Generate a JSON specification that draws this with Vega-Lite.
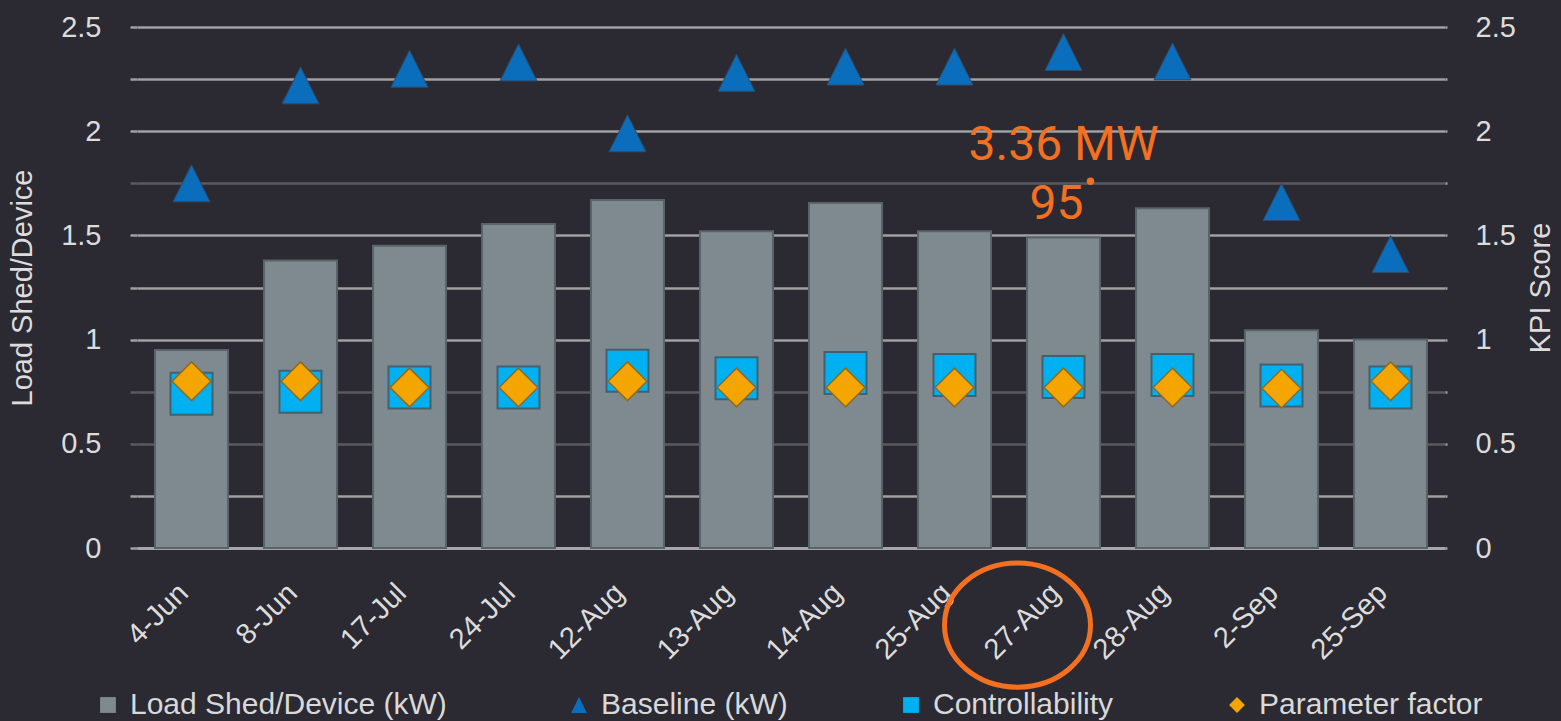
{
  "$schema": "https://vega.github.io/schema/vega-lite/v6.json",
  "width": 1308,
  "height": 521,
  "autosize": {"type": "none"},
  "padding": {"left": 137, "top": 27, "right": 116, "bottom": 173},
  "background": "#2b2a33",
  "config": {
    "view": {"stroke": null},
    "font": "Liberation Sans"
  },
  "datasets": {
    "main": [
      {"date": "4-Jun", "series": "Load Shed/Device  (kW)", "value": 0.95},
      {"date": "8-Jun", "series": "Load Shed/Device  (kW)", "value": 1.38},
      {"date": "17-Jul", "series": "Load Shed/Device  (kW)", "value": 1.45},
      {"date": "24-Jul", "series": "Load Shed/Device  (kW)", "value": 1.555},
      {"date": "12-Aug", "series": "Load Shed/Device  (kW)", "value": 1.67},
      {"date": "13-Aug", "series": "Load Shed/Device  (kW)", "value": 1.52},
      {"date": "14-Aug", "series": "Load Shed/Device  (kW)", "value": 1.655},
      {"date": "25-Aug", "series": "Load Shed/Device  (kW)", "value": 1.52},
      {"date": "27-Aug", "series": "Load Shed/Device  (kW)", "value": 1.49},
      {"date": "28-Aug", "series": "Load Shed/Device  (kW)", "value": 1.63},
      {"date": "2-Sep", "series": "Load Shed/Device  (kW)", "value": 1.045},
      {"date": "25-Sep", "series": "Load Shed/Device  (kW)", "value": 1.0},
      {"date": "4-Jun", "series": "Baseline (kW)", "value": 1.75},
      {"date": "8-Jun", "series": "Baseline (kW)", "value": 2.22},
      {"date": "17-Jul", "series": "Baseline (kW)", "value": 2.3},
      {"date": "24-Jul", "series": "Baseline (kW)", "value": 2.33},
      {"date": "12-Aug", "series": "Baseline (kW)", "value": 1.99},
      {"date": "13-Aug", "series": "Baseline (kW)", "value": 2.28},
      {"date": "14-Aug", "series": "Baseline (kW)", "value": 2.31},
      {"date": "25-Aug", "series": "Baseline (kW)", "value": 2.31},
      {"date": "27-Aug", "series": "Baseline (kW)", "value": 2.38},
      {"date": "28-Aug", "series": "Baseline (kW)", "value": 2.335},
      {"date": "2-Sep", "series": "Baseline (kW)", "value": 1.66},
      {"date": "25-Sep", "series": "Baseline (kW)", "value": 1.41},
      {"date": "4-Jun", "series": "Controllability", "value": 0.74},
      {"date": "8-Jun", "series": "Controllability", "value": 0.75},
      {"date": "17-Jul", "series": "Controllability", "value": 0.77},
      {"date": "24-Jul", "series": "Controllability", "value": 0.77},
      {"date": "12-Aug", "series": "Controllability", "value": 0.85},
      {"date": "13-Aug", "series": "Controllability", "value": 0.815},
      {"date": "14-Aug", "series": "Controllability", "value": 0.84},
      {"date": "25-Aug", "series": "Controllability", "value": 0.83},
      {"date": "27-Aug", "series": "Controllability", "value": 0.82},
      {"date": "28-Aug", "series": "Controllability", "value": 0.83},
      {"date": "2-Sep", "series": "Controllability", "value": 0.78},
      {"date": "25-Sep", "series": "Controllability", "value": 0.77},
      {"date": "4-Jun", "series": "Parameter factor", "value": 0.8},
      {"date": "8-Jun", "series": "Parameter factor", "value": 0.8},
      {"date": "17-Jul", "series": "Parameter factor", "value": 0.77},
      {"date": "24-Jul", "series": "Parameter factor", "value": 0.77},
      {"date": "12-Aug", "series": "Parameter factor", "value": 0.8},
      {"date": "13-Aug", "series": "Parameter factor", "value": 0.77},
      {"date": "14-Aug", "series": "Parameter factor", "value": 0.77},
      {"date": "25-Aug", "series": "Parameter factor", "value": 0.77},
      {"date": "27-Aug", "series": "Parameter factor", "value": 0.77},
      {"date": "28-Aug", "series": "Parameter factor", "value": 0.77},
      {"date": "2-Sep", "series": "Parameter factor", "value": 0.765},
      {"date": "25-Sep", "series": "Parameter factor", "value": 0.8}
    ]
  },
  "encoding": {
    "x": {
      "field": "date",
      "type": "nominal",
      "sort": null,
      "scale": {
        "domain": ["4-Jun", "8-Jun", "17-Jul", "24-Jul", "12-Aug", "13-Aug", "14-Aug", "25-Aug", "27-Aug", "28-Aug", "2-Sep", "25-Sep"],
        "paddingInner": 0.33,
        "paddingOuter": 0.165
      },
      "axis": {
        "title": null,
        "labelAngle": -45,
        "labelAlign": "right",
        "labelBaseline": "middle",
        "labelFontSize": 29,
        "labelColor": "#dcdcdc",
        "labelPadding": 40,
        "labelOffset": -8,
        "ticks": false,
        "domainColor": "#a6a6a6",
        "domainWidth": 3
      }
    }
  },
  "layer": [
    {
      "layer": [
        {
          "data": {"name": "main"},
          "transform": [{"filter": "datum.series === 'Load Shed/Device  (kW)'"}],
          "mark": {"type": "bar", "stroke": "#59636a", "strokeWidth": 2},
          "encoding": {
            "y": {
              "field": "value",
              "type": "quantitative",
              "scale": {"domain": [0, 2.5], "nice": false},
              "axis": {
                "title": "Load Shed/Device",
                "titleColor": "#dcdcdc",
                "titleFontSize": 29,
                "titleFontWeight": "normal",
                "titlePadding": 23,
                "values": [0, 0.25, 0.5, 0.75, 1, 1.25, 1.5, 1.75, 2, 2.25, 2.5],
                "labelExpr": "(datum.value * 4) % 2 == 0 ? format(datum.value, '~g') : ''",
                "labelFontSize": 29,
                "labelColor": "#dcdcdc",
                "labelPadding": 29,
                "tickSize": 7,
                "tickColor": {"condition": {"test": "datum.value == 1.75 || datum.value == 0.75 || datum.value == 0.5", "value": "#5a5a61"}, "value": "#a0a0a0"},
                "tickWidth": 2.5,
                "domain": false,
                "grid": true,
                "gridColor": {"condition": {"test": "datum.value == 1.75 || datum.value == 0.75 || datum.value == 0.5", "value": "#5a5a61"}, "value": "#a0a0a0"},
                "gridWidth": 2.5
              }
            },
            "color": {
              "field": "series",
              "type": "nominal",
              "scale": {
                "domain": ["Load Shed/Device  (kW)", "Baseline (kW)", "Controllability", "Parameter factor"],
                "range": ["#7f8a90", "#0a6ebd", "#00b0f0", "#f5a500"]
              },
              "legend": {
                "title": null,
                "orient": "none",
                "legendX": -44,
                "legendY": 663,
                "direction": "horizontal",
                "columns": 4,
                "columnPadding": 108,
                "labelFontSize": 30,
                "labelLimit": 0,
                "labelColor": "#d9d9d9",
                "symbolSize": 250,
                "labelOffset": 7,
                "symbolStrokeWidth": 0
              }
            }
          }
        },
        {
          "data": {"name": "main"},
          "transform": [{"filter": "datum.series === 'Baseline (kW)'"}],
          "mark": {"type": "point", "filled": true, "opacity": 1, "size": 1369, "stroke": "#2e4a66", "strokeWidth": 1},
          "encoding": {
            "y": {"field": "value", "type": "quantitative", "scale": {"domain": [0, 2.5], "nice": false}},
            "color": {"field": "series", "type": "nominal"},
            "shape": {
              "field": "series",
              "type": "nominal",
              "scale": {
                "domain": ["Load Shed/Device  (kW)", "Baseline (kW)", "Controllability", "Parameter factor"],
                "range": ["square", "M0,-1L1,1L-1,1Z", "square", "diamond"]
              },
              "legend": {
                "title": null,
                "orient": "none",
                "legendX": -44,
                "legendY": 663,
                "direction": "horizontal",
                "columns": 4,
                "columnPadding": 108,
                "labelFontSize": 30,
                "labelLimit": 0,
                "labelColor": "#d9d9d9",
                "symbolSize": 250,
                "labelOffset": 7,
                "symbolStrokeWidth": 0
              }
            }
          }
        },
        {
          "data": {"values": [{"date": "27-Aug", "value": 1.93, "label": "3.36 MW"}]},
          "mark": {"type": "text", "font": "Roboto", "fontSize": 48, "color": "#f37021", "align": "center", "baseline": "middle"},
          "encoding": {
            "y": {"field": "value", "type": "quantitative", "scale": {"domain": [0, 2.5], "nice": false}},
            "text": {"field": "label"}
          }
        },
        {
          "data": {"values": [{"date": "27-Aug", "value": 1.646, "label": "95"}]},
          "mark": {"type": "text", "font": "Roboto", "fontSize": 48, "color": "#f37021", "align": "center", "baseline": "middle", "dx": -7},
          "encoding": {
            "y": {"field": "value", "type": "quantitative", "scale": {"domain": [0, 2.5], "nice": false}},
            "text": {"field": "label"}
          }
        },
        {
          "data": {"values": [{"date": "27-Aug", "value": 1.76}]},
          "mark": {"type": "point", "filled": true, "opacity": 1, "shape": "circle", "size": 55, "color": "#f37021", "xOffset": 27},
          "encoding": {
            "y": {"field": "value", "type": "quantitative", "scale": {"domain": [0, 2.5], "nice": false}}
          }
        },
        {
          "data": {"values": [{"date": "27-Aug", "value": -0.37}]},
          "mark": {"type": "point", "filled": false, "opacity": 1, "shape": "M-1,0A1,0.85,0,1,1,1,0A1,0.85,0,1,1,-1,0Z", "size": 21316, "stroke": "#f37021", "strokeWidth": 5, "xOffset": -46},
          "encoding": {
            "y": {"field": "value", "type": "quantitative", "scale": {"domain": [0, 2.5], "nice": false}}
          }
        }
      ]
    },
    {
      "layer": [
        {
          "data": {"name": "main"},
          "transform": [{"filter": "datum.series === 'Controllability'"}],
          "mark": {"type": "point", "filled": true, "opacity": 1, "size": 1764, "stroke": "#44606e", "strokeWidth": 2},
          "encoding": {
            "y": {
              "field": "value",
              "type": "quantitative",
              "scale": {"domain": [0, 2.5], "nice": false},
              "axis": {
                "orient": "right",
                "title": "KPI Score",
                "titleAngle": 270,
                "titleColor": "#dcdcdc",
                "titleFontSize": 29,
                "titleFontWeight": "normal",
                "titlePadding": 40,
                "values": [0, 0.25, 0.5, 0.75, 1, 1.25, 1.5, 1.75, 2, 2.25, 2.5],
                "labelExpr": "(datum.value * 4) % 2 == 0 ? format(datum.value, '~g') : ''",
                "labelFontSize": 29,
                "labelColor": "#dcdcdc",
                "labelPadding": 28,
                "tickSize": 2,
                "tickColor": "#a0a0a0",
                "tickWidth": 2.5,
                "domain": false,
                "grid": false
              }
            },
            "color": {"field": "series", "type": "nominal"},
            "shape": {"field": "series", "type": "nominal"}
          }
        },
        {
          "data": {"name": "main"},
          "transform": [{"filter": "datum.series === 'Parameter factor'"}],
          "mark": {"type": "point", "filled": true, "opacity": 1, "size": 1500, "stroke": "#8f6b1f", "strokeWidth": 1.5},
          "encoding": {
            "y": {"field": "value", "type": "quantitative", "scale": {"domain": [0, 2.5], "nice": false}},
            "color": {"field": "series", "type": "nominal"},
            "shape": {"field": "series", "type": "nominal"}
          }
        }
      ]
    }
  ],
  "resolve": {"scale": {"y": "independent"}}
}
